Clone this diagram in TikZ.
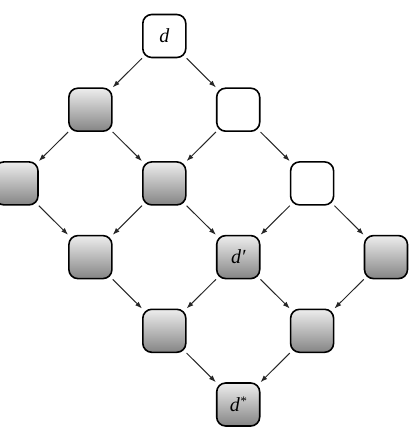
\documentclass[tikz,border=0pt]{standalone}
\usepackage{fontspec}
\setmainfont{Liberation Serif}
\usetikzlibrary{arrows.meta}
\begin{document}
\begin{tikzpicture}[x=1pt,y=1pt,
  box/.style={draw=black, line width=1.6pt, rounded corners=9pt, minimum size=43pt, inner sep=0pt, font=\fontsize{20}{22}\selectfont\itshape},
  whitebox/.style={box, fill=white},
  graybox/.style={box, top color=black!7, bottom color=black!48},
  edge/.style={-{Latex[length=7pt,width=5pt]}, line width=1pt, black!85}]
\useasboundingbox (0,0) rectangle (412,-430);
\def\cx#1{16.5+73.9*#1}
\def\ry#1{-36-73.7*#1}
\node[whitebox] (n0) at ({\cx{2}},{\ry{0}}) {d};
\node[graybox]  (a1) at ({\cx{1}},{\ry{1}}) {};
\node[whitebox] (b1) at ({\cx{3}},{\ry{1}}) {};
\node[graybox]  (a2) at ({\cx{0}},{\ry{2}}) {};
\node[graybox]  (b2) at ({\cx{2}},{\ry{2}}) {};
\node[whitebox] (c2) at ({\cx{4}},{\ry{2}}) {};
\node[graybox]  (a3) at ({\cx{1}},{\ry{3}}) {};
\node[graybox]  (b3) at ({\cx{3}},{\ry{3}}) {d′};
\node[graybox]  (c3) at ({\cx{5}},{\ry{3}}) {};
\node[graybox]  (a4) at ({\cx{2}},{\ry{4}}) {};
\node[graybox]  (b4) at ({\cx{4}},{\ry{4}}) {};
\node[graybox]  (a5) at ({\cx{3}},{\ry{5}}) {d\raisebox{6pt}{\fontsize{13}{14}\selectfont *}};
\draw[edge] (n0.south west) -- (a1.north east);
\draw[edge] (n0.south east) -- (b1.north west);
\draw[edge] (a1.south west) -- (a2.north east);
\draw[edge] (a1.south east) -- (b2.north west);
\draw[edge] (b1.south west) -- (b2.north east);
\draw[edge] (b1.south east) -- (c2.north west);
\draw[edge] (a2.south east) -- (a3.north west);
\draw[edge] (b2.south west) -- (a3.north east);
\draw[edge] (b2.south east) -- (b3.north west);
\draw[edge] (c2.south west) -- (b3.north east);
\draw[edge] (c2.south east) -- (c3.north west);
\draw[edge] (a3.south east) -- (a4.north west);
\draw[edge] (b3.south west) -- (a4.north east);
\draw[edge] (b3.south east) -- (b4.north west);
\draw[edge] (c3.south west) -- (b4.north east);
\draw[edge] (a4.south east) -- (a5.north west);
\draw[edge] (b4.south west) -- (a5.north east);
\end{tikzpicture}
\end{document}
